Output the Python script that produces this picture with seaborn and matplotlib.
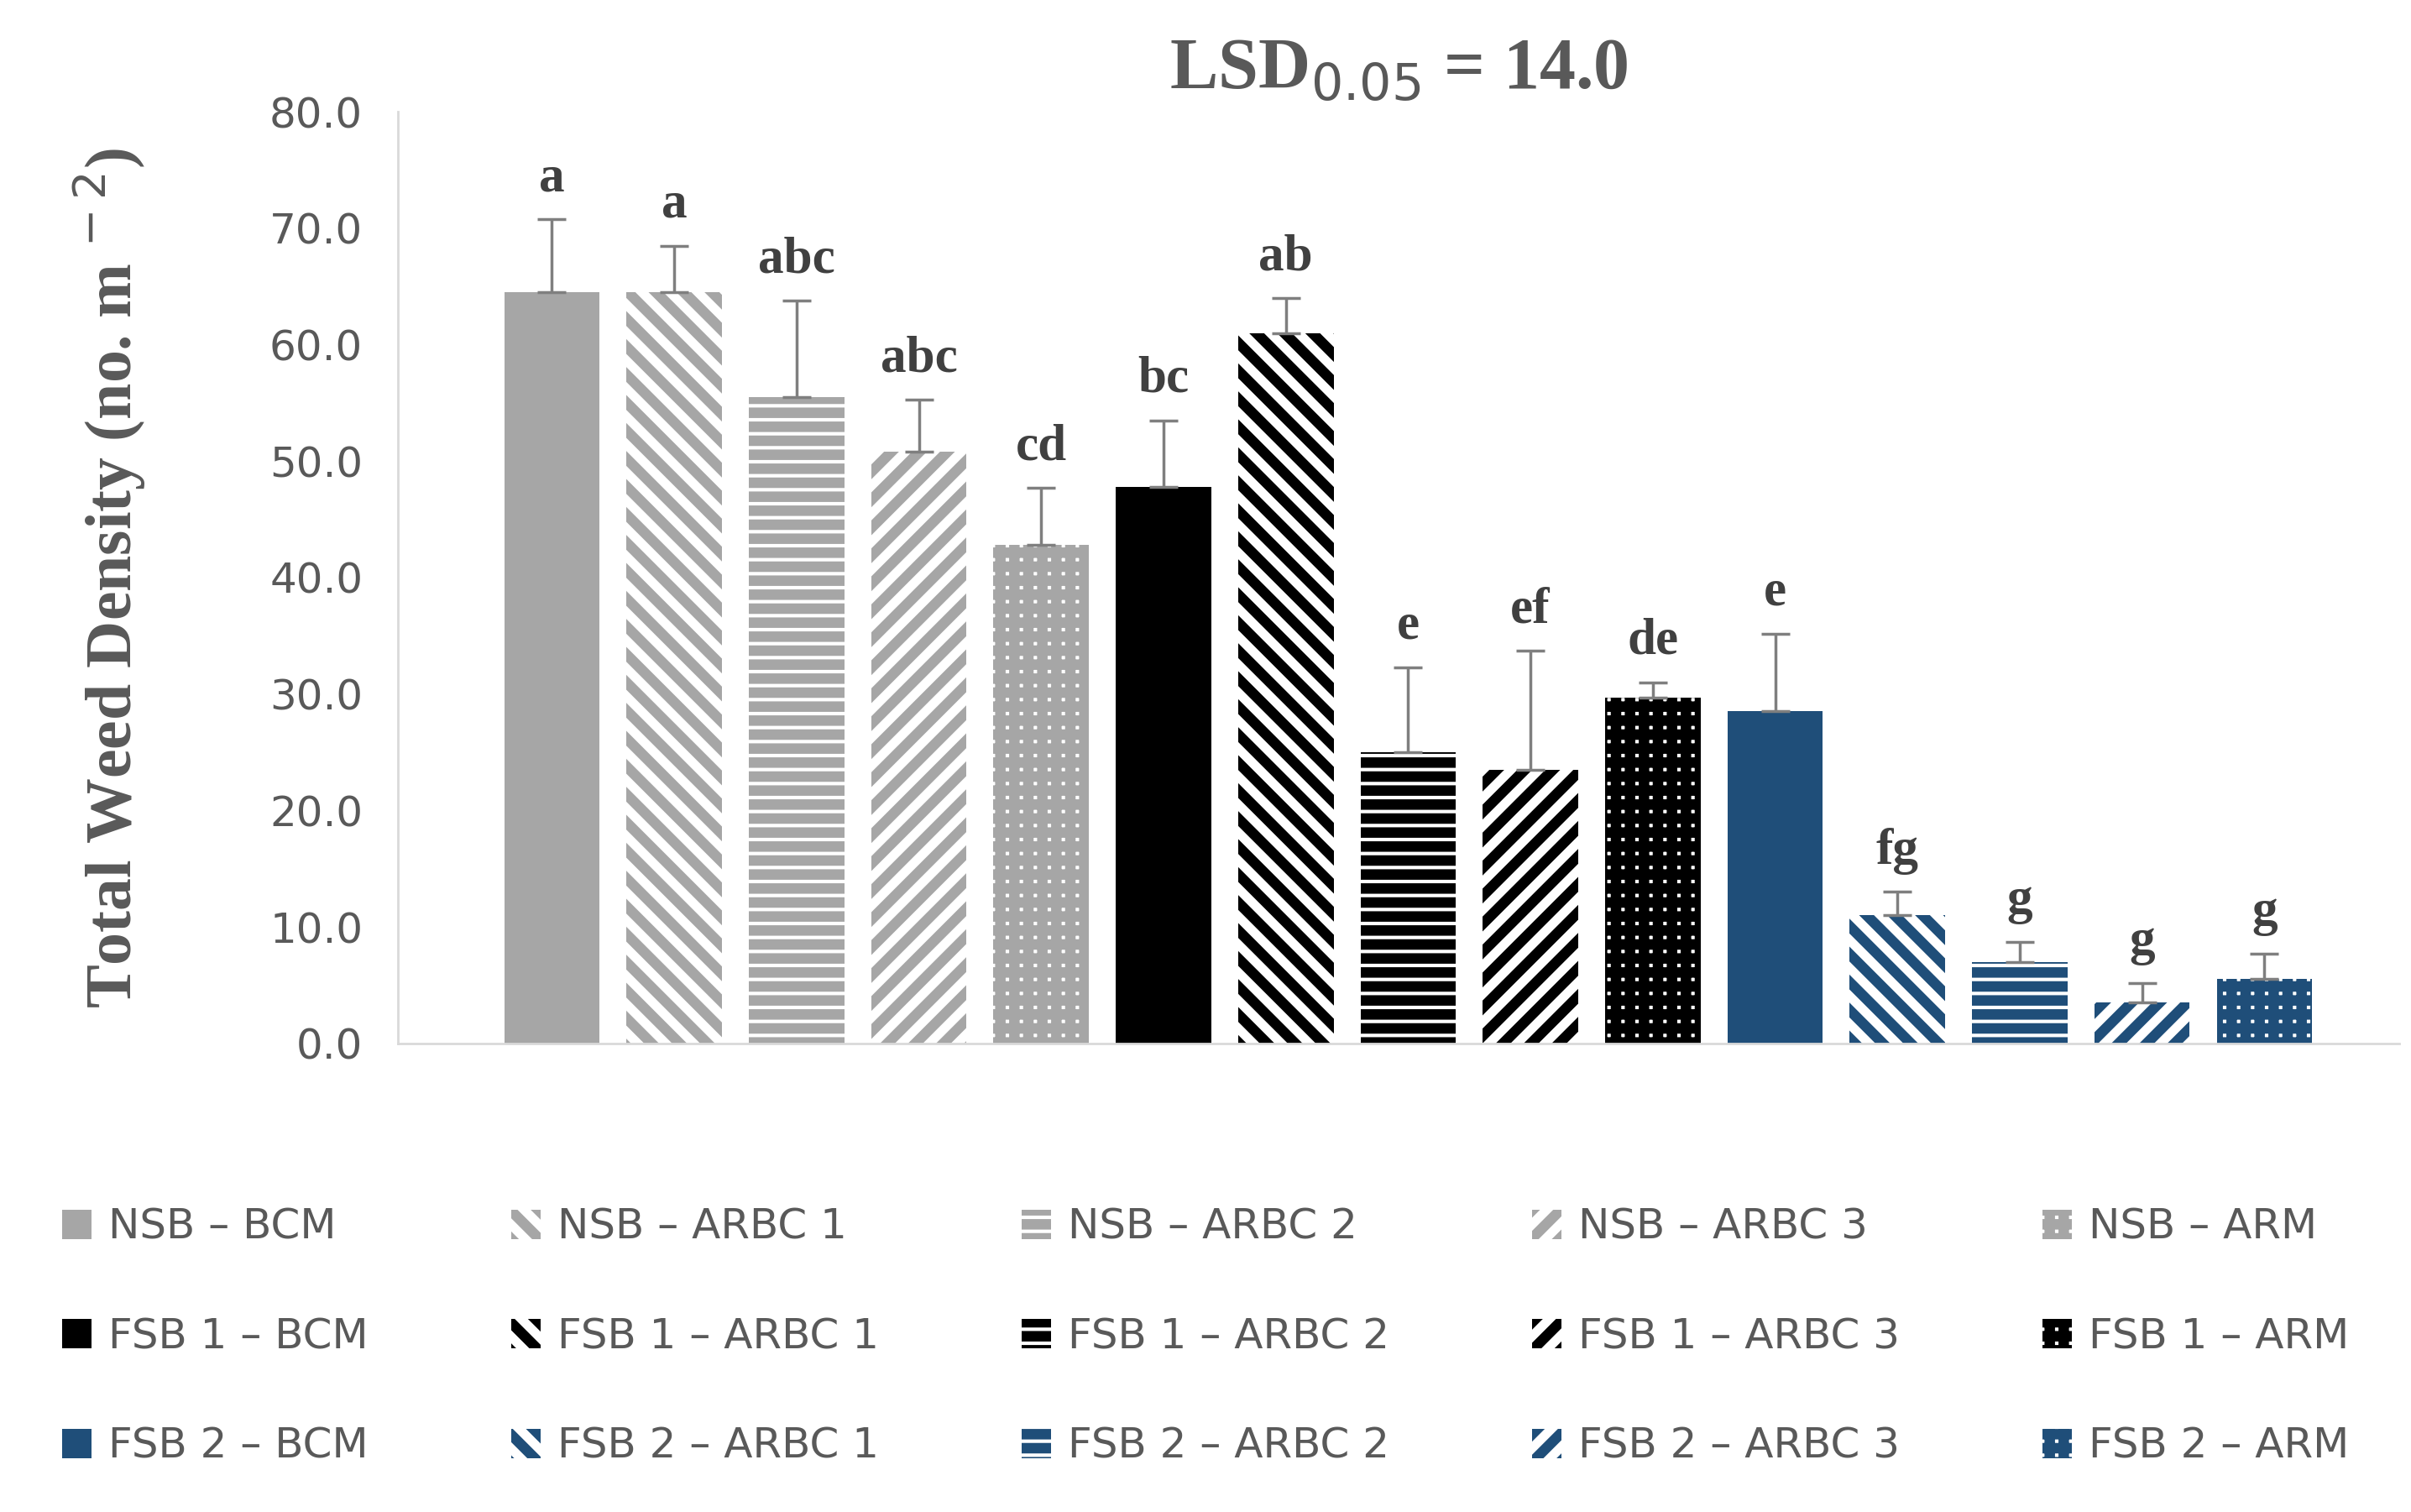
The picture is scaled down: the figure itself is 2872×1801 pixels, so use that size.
import matplotlib
matplotlib.use("Agg")
import matplotlib.pyplot as plt
import seaborn as sns
import pandas as pd
from matplotlib.patches import Patch

categories = ["NSB – BCM", "NSB – ARBC 1", "NSB – ARBC 2", "NSB – ARBC 3", "NSB – ARM",
              "FSB 1 – BCM", "FSB 1 – ARBC 1", "FSB 1 – ARBC 2", "FSB 1 – ARBC 3", "FSB 1 – ARM",
              "FSB 2 – BCM", "FSB 2 – ARBC 1", "FSB 2 – ARBC 2", "FSB 2 – ARBC 3", "FSB 2 – ARM"]
values = [64.5, 64.5, 55.5, 50.8, 42.8, 47.8, 61.0, 25.0, 23.5, 29.7, 28.5, 11.0, 7.0, 3.5, 5.5]
err_top = [70.8, 68.5, 63.8, 55.3, 47.7, 53.5, 64.0, 32.3, 33.7, 31.0, 35.2, 13.0, 8.7, 5.2, 7.7]
letters = ["a", "a", "abc", "abc", "cd", "bc", "ab", "e", "ef", "de", "e", "fg", "g", "g", "g"]
group_colors = ["#A6A6A6", "#000000", "#1F4E79"]
patterns = [None, "\\", "-", "/", "+"]

sns.set_theme(style="white")
plt.rcParams["hatch.linewidth"] = 9
fig = plt.figure(figsize=(28.72, 18.01), dpi=100)
ax = fig.add_axes([0.165, 0.31, 0.83, 0.616])

df = pd.DataFrame({"cat": categories, "val": values})
sns.barplot(data=df, x="cat", y="val", ax=ax, color="white", width=0.78, errorbar=None)

handles = []
for i, p in enumerate(ax.patches):
    c = group_colors[i // 5]
    h = patterns[i % 5]
    if h is None:
        p.set_facecolor(c); p.set_edgecolor(c); p.set_linewidth(0)
    else:
        p.set_facecolor("white"); p.set_edgecolor(c); p.set_hatch(h); p.set_linewidth(0)
    handles.append(Patch(facecolor=c if h is None else "white", edgecolor=c, hatch=h, linewidth=0, label=categories[i]))

xs = list(range(len(values)))
up = [t - v for t, v in zip(err_top, values)]
ax.errorbar(xs, values, yerr=[[0]*len(values), up], fmt="none", ecolor="#7F7F7F",
            elinewidth=2.5, capsize=12, capthick=2.5)
for x, t, l in zip(xs, err_top, letters):
    ax.text(x, t + 1.5, l, ha="center", va="bottom", fontsize=44, fontweight="bold",
            family="Liberation Serif", color="#404040")

ax.set_xlim(-1.26, 15.1)
ax.set_ylim(0, 80)
ax.set_yticks(range(0, 81, 10))
ax.set_yticklabels([f"{v:.1f}" for v in range(0, 81, 10)], fontsize=36, color="#595959")
ax.set_xticks([])
ax.set_xlabel("")
ax.set_ylabel("Total Weed Density (no. m$^{\\,-2}$)", fontsize=56, fontweight="bold",
              family="Liberation Serif", color="#595959", labelpad=40)
ax.yaxis.set_label_coords(-0.125, 0.5)
for s in ["top", "right"]:
    ax.spines[s].set_visible(False)
for s in ["left", "bottom"]:
    ax.spines[s].set_color("#D9D9D9"); ax.spines[s].set_linewidth(2)
ax.tick_params(axis="y", length=0, pad=30)
ax.set_title("LSD$_{0.05}$ = 14.0", fontsize=62, fontweight="bold", family="Liberation Serif",
             color="#595959", pad=20)

order = [handles[r*5 + c] for c in range(5) for r in range(3)]
fig.legend(handles=order, loc="lower center", bbox_to_anchor=(0.5, 0.005), ncol=5, frameon=False,
           fontsize=36, handlelength=0.7, handleheight=0.7, handletextpad=0.4,
           labelspacing=1.65, columnspacing=3.4, labelcolor="#595959")
fig.savefig("out.png", dpi=100)
